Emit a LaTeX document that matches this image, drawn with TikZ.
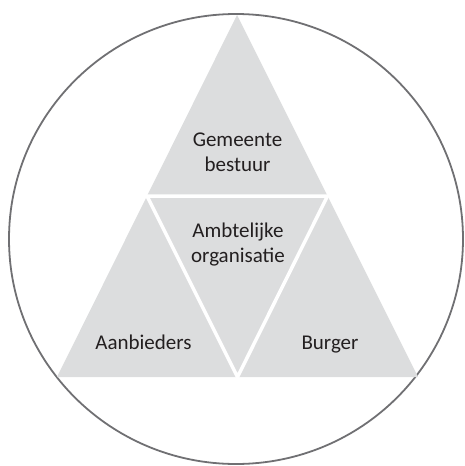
\documentclass[tikz,border=0pt]{standalone}
\usepackage{fontspec}
\setmainfont{Carlito}
\definecolor{trifill}{RGB}{220,221,222}
\definecolor{ringcol}{RGB}{112,112,115}
\definecolor{txtcol}{RGB}{35,31,32}
\begin{document}
\begin{tikzpicture}[x=1pt,y=-1pt,
  lbl/.style={text=txtcol,font=\fontsize{21}{25}\selectfont,align=center,inner sep=0pt},
  gap/.style={draw=white,line width=3.5pt,line join=miter}]
\useasboundingbox (0,0) rectangle (464,466);
\coordinate (A) at (237,15);
\coordinate (B) at (57,377);
\coordinate (C) at (418,377);
\coordinate (AB) at (147,196);
\coordinate (AC) at (327.5,196);
\coordinate (BC) at (237.5,377);
\draw[ringcol,line width=1.8pt] (236,239) ellipse [x radius=227,y radius=225];
\fill[trifill] (A) -- (B) -- (C) -- cycle;
\draw[gap] (AB) -- (AC) -- (BC) -- cycle;
\node[lbl] (gem) at (237.5,152) {Gemeente\\bestuur};
\node[lbl] (amb) at (238,244.5) {Ambtelijke\\organisatie};
\node[lbl,anchor=base] (aan) at (143.5,349) {Aanbieders};
\node[lbl,anchor=base] (bur) at (330,349) {Burger};
\end{tikzpicture}
\end{document}
